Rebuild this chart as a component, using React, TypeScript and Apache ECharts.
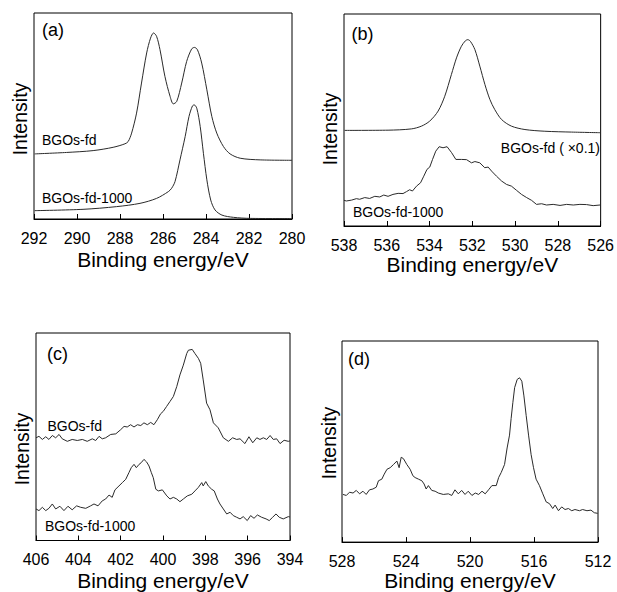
import React, { useEffect, useRef } from "react";
import * as echarts from "echarts";

// Panel (a) C1s
const aXTicks = [292, 290, 288, 286, 284, 282, 280];
const aFd: [number, number][] = [
  [291.97, 31.6], [290.49, 32.3], [289.25, 33.2], [288.32, 34.8], [287.77, 36.5], [287.62, 37.6],
  [287.46, 41.7], [287.23, 51.4], [287.0, 66.0], [286.76, 80.6], [286.58, 87.8], [286.44, 90.3],
  [286.3, 88.7], [286.14, 82.2], [285.91, 69.2], [285.67, 59.5], [285.52, 55.9], [285.36, 57.1],
  [285.13, 66.0], [284.9, 76.5], [284.67, 82.5], [284.54, 83.3], [284.4, 82.2], [284.2, 75.7],
  [283.96, 62.7], [283.73, 49.8], [283.5, 41.7], [283.19, 35.2], [282.88, 31.6], [282.41, 29.5],
  [281.48, 28.7], [280.0, 28.5],
];
const aFd1000: [number, number][] = [
  [291.97, 4.05], [289.72, 4.7], [288.16, 6.0], [287.07, 7.6], [286.3, 10.0], [285.75, 13.3],
  [285.6, 14.9], [285.44, 18.2], [285.21, 28.7], [284.97, 40.0], [284.79, 49.8], [284.63, 54.9],
  [284.55, 55.4], [284.43, 53.8], [284.27, 44.9], [284.12, 31.9], [283.96, 19.0], [283.78, 9.2],
  [283.58, 4.4], [283.26, 1.9], [282.72, 0.8], [281.94, 0.3], [280.0, 0.2],
];

// Panel (b) O1s
const bFd: [number, number][] = [
  [537.97, 45.1], [535.94, 45.2], [534.85, 45.8], [534.38, 47.1], [533.99, 49.5], [533.6, 54.2],
  [533.29, 61.2], [532.98, 71.4], [532.74, 79.3], [532.51, 84.8], [532.32, 87.4], [532.21, 87.9],
  [532.09, 87.1], [531.88, 83.2], [531.65, 75.4], [531.41, 66.7], [531.18, 59.7], [530.95, 54.9],
  [530.63, 50.2], [530.17, 47.1], [529.54, 45.5], [528.61, 44.7], [527.36, 44.3], [526.0, 44.0],
];
const bFd1000: [number, number][] = [
  [538.0, 12.1], [537.89, 11.8], [537.65, 12.2], [537.42, 12.9], [537.27, 12.6], [537.03, 13.4],
  [536.8, 13.0], [536.56, 14.0], [536.33, 13.7], [536.14, 14.6], [535.94, 14.0], [535.71, 14.9],
  [535.47, 15.4], [535.24, 15.3], [535.08, 16.2], [534.93, 17.1], [534.8, 16.5], [534.61, 18.8],
  [534.42, 20.4], [534.27, 23.5], [534.12, 26.7], [533.99, 27.8], [533.86, 31.4], [533.71, 35.3],
  [533.55, 37.4], [533.37, 36.9], [533.18, 37.4], [532.97, 34.6], [532.77, 31.4], [532.51, 31.4],
  [532.27, 31.3], [532.04, 29.8], [531.88, 30.4], [531.65, 29.8], [531.42, 27.5], [531.26, 27.8],
  [531.1, 25.9], [530.87, 23.5], [530.63, 21.2], [530.4, 19.6], [530.17, 18.8], [529.93, 16.8],
  [529.7, 14.9], [529.46, 13.4], [529.23, 12.1], [529.0, 10.2], [528.76, 10.5], [528.53, 9.9],
  [528.22, 10.2], [527.9, 9.7], [527.59, 10.2], [527.28, 9.9], [526.97, 10.2], [526.66, 10.1],
  [526.35, 9.6], [526.03, 9.9],
];

// Panel (c) N1s
const cFd: [number, number][] = [
  [406.0, 49.5], [405.86, 50.2], [405.7, 48.7], [405.54, 50.0], [405.39, 48.7], [405.23, 50.6],
  [405.07, 49.5], [404.91, 51.1], [404.76, 49.0], [404.52, 47.8], [404.29, 48.7], [404.05, 48.2],
  [403.81, 48.7], [403.58, 47.8], [403.34, 49.0], [403.18, 48.2], [403.02, 50.2], [402.87, 49.0],
  [402.71, 49.5], [402.47, 51.1], [402.23, 51.4], [402.0, 53.4], [401.84, 55.0], [401.69, 54.7],
  [401.53, 55.8], [401.37, 54.7], [401.21, 55.8], [401.05, 55.4], [400.9, 56.7], [400.74, 55.8],
  [400.58, 56.9], [400.43, 55.8], [400.27, 58.2], [400.11, 61.1], [399.99, 62.2], [399.83, 64.6],
  [399.67, 67.0], [399.51, 69.4], [399.35, 74.2], [399.2, 79.8], [399.04, 84.5], [398.88, 90.1],
  [398.8, 91.7], [398.62, 92.1], [398.49, 90.1], [398.33, 87.8], [398.22, 85.4], [398.1, 77.4],
  [397.94, 66.2], [397.78, 63.0], [397.62, 56.7], [397.39, 54.3], [397.15, 49.5], [396.91, 47.8],
  [396.71, 49.5], [396.52, 48.7], [396.36, 49.0], [396.13, 46.7], [395.94, 50.0], [395.76, 47.1],
  [395.57, 49.5], [395.42, 48.7], [395.26, 49.5], [395.1, 48.7], [394.94, 50.6], [394.79, 48.7],
  [394.63, 49.0], [394.47, 46.7], [394.28, 48.3], [394.08, 47.8], [394.0, 48.0],
];
const cFd1000: [number, number][] = [
  [406.0, 15.2], [405.86, 14.4], [405.7, 16.0], [405.54, 14.4], [405.39, 15.5], [405.23, 17.6],
  [405.07, 15.2], [404.87, 16.5], [404.68, 14.4], [404.49, 16.5], [404.29, 14.8], [404.08, 16.7],
  [403.89, 16.0], [403.65, 15.5], [403.42, 16.7], [403.26, 17.6], [403.07, 16.7], [402.87, 19.1],
  [402.71, 20.0], [402.55, 21.9], [402.4, 20.8], [402.27, 24.4], [402.08, 26.3], [401.92, 27.9],
  [401.76, 29.5], [401.61, 32.7], [401.5, 35.1], [401.37, 36.7], [401.26, 35.1], [401.13, 36.7],
  [401.03, 37.5], [400.9, 39.1], [400.77, 37.8], [400.66, 35.9], [400.55, 32.7], [400.46, 30.3],
  [400.34, 24.7], [400.22, 23.9], [400.03, 24.4], [399.82, 21.5], [399.67, 20.0], [399.51, 20.8],
  [399.35, 20.0], [399.2, 18.7], [399.04, 20.0], [398.85, 21.5], [398.64, 22.3], [398.49, 23.9],
  [398.33, 25.6], [398.17, 27.9], [398.1, 26.3], [397.98, 28.4], [397.86, 26.3], [397.7, 24.7],
  [397.58, 23.9], [397.43, 20.0], [397.31, 17.6], [397.15, 15.2], [396.99, 12.8], [396.83, 13.6],
  [396.68, 12.0], [396.52, 11.2], [396.36, 10.4], [396.21, 11.5], [396.02, 9.6], [395.86, 12.0],
  [395.7, 10.7], [395.54, 12.3], [395.34, 11.2], [395.13, 10.4], [394.98, 9.6], [394.82, 11.2],
  [394.66, 12.8], [394.51, 11.2], [394.32, 10.4], [394.08, 11.5], [394.0, 11.3],
];

// Panel (d)
const dCurve: [number, number][] = [
  [527.94, 23.7], [527.73, 23.2], [527.53, 24.8], [527.31, 24.4], [527.11, 25.7], [526.9, 24.0],
  [526.69, 25.3], [526.49, 23.7], [526.28, 26.0], [526.07, 26.4], [525.86, 27.3], [525.72, 30.5],
  [525.51, 31.3], [525.36, 33.8], [525.19, 36.2], [524.99, 37.0], [524.78, 38.6], [524.57, 40.3],
  [524.43, 37.0], [524.3, 42.2], [524.16, 41.5], [523.95, 38.6], [523.74, 36.2], [523.57, 33.0],
  [523.43, 32.1], [523.22, 31.3], [523.01, 30.5], [522.87, 28.9], [522.74, 26.4], [522.6, 28.1],
  [522.39, 25.7], [522.18, 25.3], [521.98, 24.4], [521.67, 23.7], [521.35, 24.0], [521.14, 23.2],
  [520.94, 26.0], [520.73, 24.0], [520.52, 25.7], [520.31, 23.7], [520.11, 25.3], [519.88, 23.2],
  [519.67, 24.4], [519.46, 23.7], [519.25, 25.3], [519.05, 24.0], [518.84, 26.0], [518.63, 28.1],
  [518.36, 28.1], [518.21, 32.1], [518.05, 34.6], [517.84, 38.6], [517.68, 46.8], [517.53, 53.2],
  [517.43, 61.4], [517.32, 69.5], [517.21, 76.8], [517.05, 80.9], [516.9, 81.7], [516.76, 80.0],
  [516.63, 72.7], [516.49, 63.0], [516.34, 53.2], [516.18, 43.5], [516.03, 37.0], [515.87, 31.3],
  [515.66, 28.1], [515.45, 24.0], [515.24, 20.0], [515.03, 19.1], [514.83, 16.7], [514.68, 18.4],
  [514.47, 15.6], [514.27, 17.5], [514.06, 16.2], [513.85, 16.7], [513.64, 15.6], [513.44, 16.2],
  [513.16, 15.6], [512.96, 16.2], [512.69, 15.6], [512.44, 15.9], [512.23, 14.6], [512.02, 14.3],
];

const panelRanges = [
  { min: 280, max: 292, interval: 2 },
  { min: 526, max: 538, interval: 2 },
  { min: 394, max: 406, interval: 2 },
  { min: 512, max: 528, interval: 4 },
];

const FONT = "Liberation Sans, Arial, Helvetica, sans-serif";
const LINE = "#2a2a2a";

export default function App() {
  const ref = useRef<HTMLDivElement>(null);
  useEffect(() => {
    if (!ref.current) return;
    const chart = echarts.init(ref.current, undefined, { renderer: "svg" });
    const grids = [
      { left: 34, top: 13, width: 258, height: 206 },
      { left: 344, top: 14, width: 257, height: 212 },
      { left: 36, top: 333, width: 254, height: 209 },
      { left: 342, top: 341, width: 256, height: 205 },
    ];
    const nameGaps = [30, 20, 29.5, 27];
    const xAxes = panelRanges.map((r, i) => ({
      type: "value",
      gridIndex: i,
      inverse: true,
      min: r.min,
      max: r.max,
      interval: r.interval,
      name: "Binding energy/eV",
      nameLocation: "middle",
      nameGap: nameGaps[i],
      nameTextStyle: { fontFamily: FONT, fontSize: 21, color: "#000" },
      axisLine: { show: true, lineStyle: { color: "#000", width: 1 } },
      axisTick: { show: true, inside: true, length: 5, lineStyle: { color: "#000" } },
      axisLabel: {
        show: true,
        margin: 11,
        fontFamily: FONT,
        fontSize: 16,
        color: "#000",
        showMinLabel: true,
        showMaxLabel: true,
      },
      splitLine: { show: false },
    }));
    const yAxes = grids.map((_, i) => ({
      type: "value",
      gridIndex: i,
      min: 0,
      max: 100,
      axisLine: { show: false },
      axisTick: { show: false },
      axisLabel: { show: false },
      splitLine: { show: false },
    }));
    const mk = (data: [number, number][], idx: number, smooth: boolean | number) => ({
      type: "line",
      xAxisIndex: idx,
      yAxisIndex: idx,
      data,
      showSymbol: false,
      smooth,
      lineStyle: { color: LINE, width: 1 },
      silent: true,
    });
    const txt = (text: string, x: number, y: number, size = 14, align = "left", rot = 0) => ({
      type: "text",
      x,
      y,
      rotation: rot,
      style: {
        text,
        fontFamily: FONT,
        fontSize: size,
        fill: "#000",
        align,
        verticalAlign: "middle",
      },
    });
    chart.setOption({
      animation: false,
      backgroundColor: "#fff",
      grid: grids.map((g) => ({ ...g, show: true, borderColor: "#000", borderWidth: 1, backgroundColor: "transparent" })),
      xAxis: xAxes,
      yAxis: yAxes,
      series: [
        mk(aFd, 0, 0.3),
        mk(aFd1000, 0, 0.3),
        mk(bFd, 1, 0.3),
        mk(bFd1000, 1, false),
        mk(cFd, 2, false),
        mk(cFd1000, 2, false),
        mk(dCurve, 3, false),
      ],
      graphic: [
        txt("(a)", 42, 30, 18),
        txt("BGOs-fd", 42, 140),
        txt("BGOs-fd-1000", 42, 197.5),
        txt("Intensity", 20, 119, 19.5, "center", Math.PI / 2),
        txt("(b)", 351.5, 34, 18),
        txt("BGOs-fd ( ×0.1)", 600, 147.5, 14, "right"),
        txt("BGOs-fd-1000", 353, 211.5),
        txt("Intensity", 330, 129, 19.5, "center", Math.PI / 2),
        txt("(c)", 47, 354, 18),
        txt("BGOs-fd", 47.5, 426),
        txt("BGOs-fd-1000", 45, 526),
        txt("Intensity", 21.5, 449, 19.5, "center", Math.PI / 2),
        txt("(d)", 348, 359, 18),
        txt("Intensity", 329, 443, 19.5, "center", Math.PI / 2),
      ],
    });
    return () => chart.dispose();
  }, []);
  return (
    <div
      ref={ref}
      style={{ position: "fixed", left: 0, top: 0, width: 617, height: 592, background: "#fff" }}
    />
  );
}
